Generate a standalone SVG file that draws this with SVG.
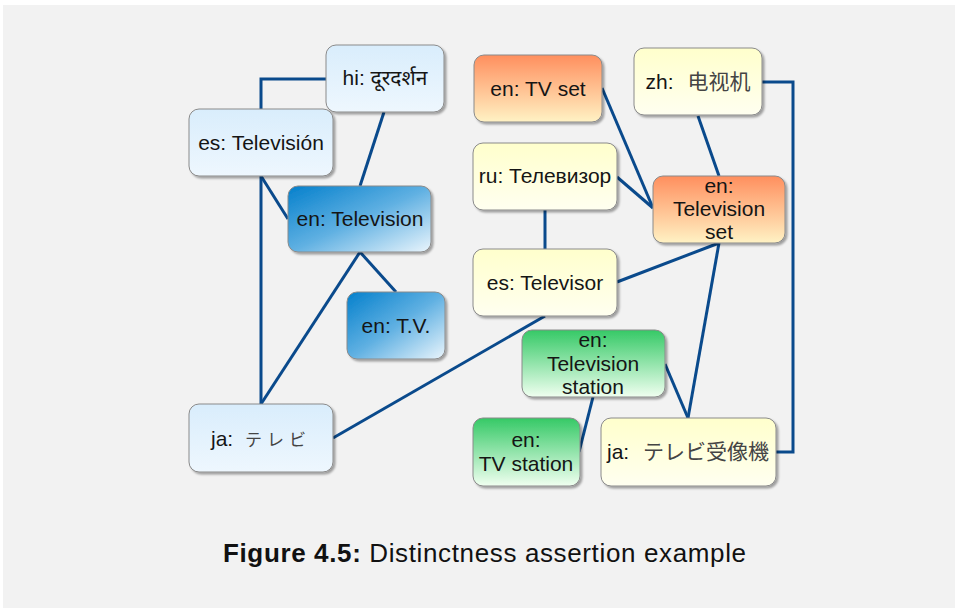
<svg xmlns="http://www.w3.org/2000/svg" width="955" height="608" viewBox="0 0 955 608">
<style>
.box{stroke:#8a8a8a;stroke-width:1;filter:url(#sh)}
.t{font-family:"Liberation Sans","Noto Sans CJK JP","Noto Sans Devanagari","Lohit Devanagari",sans-serif;font-size:21px;fill:#151515;text-anchor:middle}
.cjk{fill:#444}
.c{fill:none;stroke:#0a4a8c;stroke-width:3;stroke-linejoin:miter}
.cap{font-family:"Liberation Sans","DejaVu Sans",sans-serif;font-size:26px;fill:#111}
</style>
<defs>
<filter id="sh" x="-10%" y="-10%" width="130%" height="130%">
<feDropShadow dx="2" dy="2" stdDeviation="1.2" flood-color="#000" flood-opacity="0.35"/>
</filter>
<linearGradient id="gPale" x1="0" y1="0" x2="0" y2="1">
<stop offset="0" stop-color="#d9edfc"/><stop offset="1" stop-color="#eef7fe"/>
</linearGradient>
<linearGradient id="gDeep" x1="0" y1="0" x2="1" y2="1">
<stop offset="0" stop-color="#0580cc"/><stop offset="0.5" stop-color="#5fb0e2"/><stop offset="1" stop-color="#eaf5fc"/>
</linearGradient>
<linearGradient id="gOr" x1="0" y1="0" x2="0" y2="1">
<stop offset="0" stop-color="#ff8f5e"/><stop offset="1" stop-color="#fff2c4"/>
</linearGradient>
<linearGradient id="gYe" x1="0" y1="0" x2="0" y2="1">
<stop offset="0" stop-color="#ffffcc"/><stop offset="1" stop-color="#fffff0"/>
</linearGradient>
<linearGradient id="gGr" x1="0" y1="0" x2="0" y2="1">
<stop offset="0" stop-color="#35c966"/><stop offset="1" stop-color="#f0fff0"/>
</linearGradient>
</defs>
<rect x="0" y="0" width="955" height="608" fill="#ffffff"/>
<rect x="3" y="5" width="952" height="603" fill="#f2f2f2"/>

<g id="connectors">
<polyline class="c" points="326,79 261,79 261,109"/>
<line class="c" x1="384" y1="112" x2="360" y2="186"/>
<line class="c" x1="261" y1="176" x2="288" y2="219"/>
<line class="c" x1="261" y1="176" x2="261" y2="404"/>
<line class="c" x1="360" y1="252" x2="261" y2="404"/>
<line class="c" x1="360" y1="252" x2="396" y2="292"/>
<line class="c" x1="333" y1="438" x2="545" y2="316"/>
<line class="c" x1="617" y1="282" x2="719" y2="243"/>
<line class="c" x1="545" y1="210" x2="545" y2="249"/>
<line class="c" x1="617" y1="177" x2="653" y2="208"/>
<line class="c" x1="602" y1="88" x2="653" y2="208"/>
<line class="c" x1="698" y1="116" x2="719" y2="176"/>
<polyline class="c" points="762,82 793,82 793,452 776,452"/>
<line class="c" x1="719" y1="243" x2="688" y2="418"/>
<line class="c" x1="665" y1="364" x2="688" y2="418"/>
<line class="c" x1="593" y1="397" x2="579" y2="452"/>
</g>

<g id="hi">
<rect class="box" x="326" y="45" width="118" height="67" rx="10" fill="url(#gPale)"/>
<text class="t" x="385" y="85">hi: दूरदर्शन</text>
</g>
<g id="es-television">
<rect class="box" x="189" y="109" width="144" height="67" rx="10" fill="url(#gPale)"/>
<text class="t" x="261" y="150">es: Televisión</text>
</g>
<g id="en-television">
<rect class="box" x="288" y="186" width="143" height="66" rx="10" fill="url(#gDeep)"/>
<text class="t" x="360" y="226">en: Television</text>
</g>
<g id="en-tv">
<rect class="box" x="347" y="292" width="98" height="67" rx="10" fill="url(#gDeep)"/>
<text class="t" x="396" y="333">en: T.V.</text>
</g>
<g id="ja-terebi">
<rect class="box" x="189" y="404" width="144" height="68" rx="10" fill="url(#gPale)"/>
<text class="t" x="261" y="446">ja: <tspan class="cjk" dx="6" font-size="17" letter-spacing="5">テレビ</tspan></text>
</g>
<g id="en-tvset">
<rect class="box" x="474" y="55" width="128" height="67" rx="10" fill="url(#gOr)"/>
<text class="t" x="538" y="96">en: TV set</text>
</g>
<g id="zh">
<rect class="box" x="634" y="48" width="128" height="67" rx="10" fill="url(#gYe)"/>
<text class="t" x="698" y="89" style="font-family:'Liberation Sans','Noto Sans CJK SC',sans-serif">zh: <tspan class="cjk" dx="8">电视机</tspan></text>
</g>
<g id="ru">
<rect class="box" x="473" y="143" width="144" height="67" rx="10" fill="url(#gYe)"/>
<text class="t" x="545" y="183">ru: Телевизор</text>
</g>
<g id="en-televisionset">
<rect class="box" x="653" y="176" width="132" height="67" rx="10" fill="url(#gOr)"/>
<text class="t" x="719" y="193">en:</text>
<text class="t" x="719" y="216">Television</text>
<text class="t" x="719" y="239">set</text>
</g>
<g id="es-televisor">
<rect class="box" x="473" y="249" width="144" height="67" rx="10" fill="url(#gYe)"/>
<text class="t" x="545" y="290">es: Televisor</text>
</g>
<g id="en-televisionstation">
<rect class="box" x="522" y="330" width="143" height="67" rx="10" fill="url(#gGr)"/>
<text class="t" x="593" y="347">en:</text>
<text class="t" x="593" y="371">Television</text>
<text class="t" x="593" y="394">station</text>
</g>
<g id="en-tvstation">
<rect class="box" x="473" y="418" width="107" height="68" rx="10" fill="url(#gGr)"/>
<text class="t" x="526" y="447">en:</text>
<text class="t" x="526" y="471">TV station</text>
</g>
<g id="ja-terebijuzoki">
<rect class="box" x="601" y="418" width="175" height="68" rx="10" fill="url(#gYe)"/>
<text class="t" x="688" y="459">ja: <tspan class="cjk" dx="8">テレビ受像機</tspan></text>
</g>

<text class="cap" x="223" y="562" textLength="523" lengthAdjust="spacing"><tspan font-weight="bold">Figure 4.5:</tspan>  Distinctness assertion example</text>
</svg>
